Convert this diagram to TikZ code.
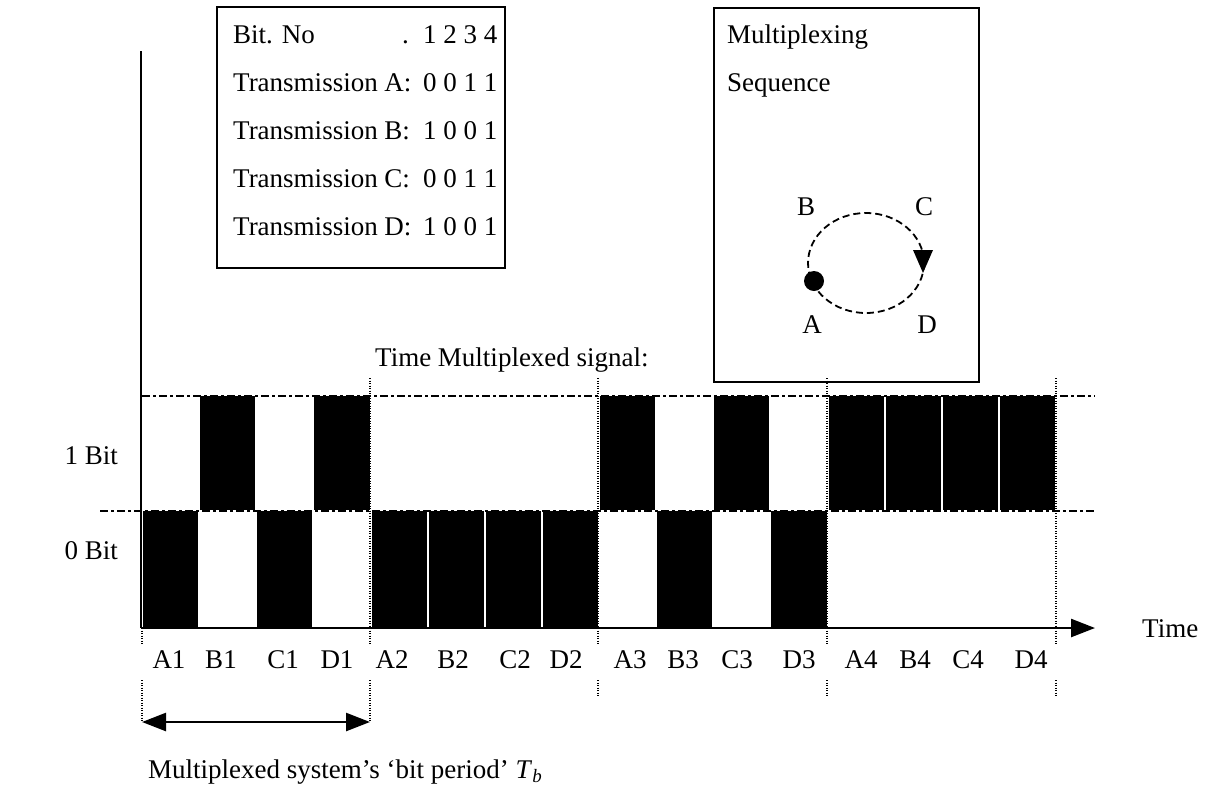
\documentclass[tikz,border=0pt]{standalone}
\usepackage{fontspec}
\setmainfont{Liberation Serif}
\usetikzlibrary{arrows.meta}
\begin{document}
\begin{tikzpicture}[x=1pt,y=-1pt,
  txt/.style={font=\fontsize{27}{31}\selectfont, inner sep=0pt},
  frame/.style={draw, line width=2pt},
  level/.style={line width=2pt, dash pattern=on 8pt off 3pt on 3pt off 3pt},
  slotline/.style={line width=1.4pt, dash pattern=on 1.3pt off 1.2pt},
  pulse/.style={fill=black},
  bigtip/.tip={Triangle[length=24pt,width=18pt]}]
\useasboundingbox (0,0) rectangle (1214,793);

% ---- bit table ----
\draw[frame] (217,7) rectangle (505,268);
\node[txt, anchor=base west] (bitno)  at (233,43)  {Bit. No};
\node[txt, anchor=base west] (bitdot) at (402,43)  {.};
\node[txt, anchor=base west] (bitnum) at (423,43)  {1 2 3 4};
\node[txt, anchor=base west] (ta) at (233,91)  {Transmission A:};
\node[txt, anchor=base west] (tad) at (423,91)  {0 0 1 1};
\node[txt, anchor=base west] (tb) at (233,139) {Transmission B:};
\node[txt, anchor=base west] (tbd) at (423,139) {1 0 0 1};
\node[txt, anchor=base west] (tc) at (233,187) {Transmission C:};
\node[txt, anchor=base west] (tcd) at (423,187) {0 0 1 1};
\node[txt, anchor=base west] (td) at (233,235) {Transmission D:};
\node[txt, anchor=base west] (tdd) at (423,235) {1 0 0 1};

% ---- multiplexing sequence ----
\draw[frame] (714,8) rectangle (979,382);
\node[txt, anchor=base west] (mux) at (727,43) {Multiplexing};
\node[txt, anchor=base west] (seq) at (727,91) {Sequence};
\draw[line width=1.8pt, dash pattern=on 7pt off 4pt] (866,263) ellipse [x radius=58, y radius=50];
\fill (814,281) circle (10);
\fill (913,250) -- (933,250) -- (923,273) -- cycle;
\node[txt] (sa) at (812,325) {A};
\node[txt] (sb) at (806,207) {B};
\node[txt] (sc) at (924,207) {C};
\node[txt] (sd) at (927,325) {D};

\node[txt, anchor=base west] (tms) at (375,366) {Time Multiplexed signal:};

% ---- levels ----
\node[txt, anchor=base east] (one)  at (118,464) {1 Bit};
\node[txt, anchor=base east] (zero) at (118,559) {0 Bit};
\draw[level] (142,396) -- (1095,396);
\draw[level] (100,511) -- (1095,511);

% ---- pulses ----
\foreach \b [count=\i from 0] in {0,1,0,1, 0,0,0,0, 1,0,1,0, 1,1,1,1}{
  \pgfmathsetmacro\xa{142+\i*57.125+1}
  \pgfmathsetmacro\xb{142+(\i+1)*57.125-1}
  \ifnum\b=1
    \fill[pulse] (\xa,396) rectangle (\xb,510);
  \else
    \fill[pulse] (\xa,511) rectangle (\xb,628);
  \fi
}

% ---- period boundaries ----
\foreach \x in {370,598,827,1056}{
  \draw[slotline] (\x,378) -- (\x,645);
}
\foreach \x in {598,827,1056}{
  \draw[slotline] (\x,680) -- (\x,697);
}
\draw[slotline] (142,628) -- (142,645);
\draw[slotline] (142,680) -- (142,722);
\draw[slotline] (370,680) -- (370,722);

% ---- axes ----
\coordinate (top) at (141,51);
\coordinate (orig) at (141,628);
\coordinate (tend) at (1095,628);
\draw[line width=2.5pt] (top) -- (orig);
\draw[line width=2.5pt, -bigtip] (orig) -- (tend);
\node[txt, anchor=base west] (time) at (1142,637) {Time};

% ---- slot labels ----
\foreach \l/\x in {A1/169,B1/221,C1/283,D1/337,A2/392,B2/453,C2/515,D2/566,
                   A3/630,B3/683,C3/737,D3/799,A4/861,B4/915,C4/968,D4/1031}{
  \node[txt, anchor=base] (l\l) at (\x,668) {\l};
}

% ---- bit period ----
\coordinate (pa) at (142,722);
\coordinate (pb) at (370,722);
\draw[line width=2.5pt, bigtip-bigtip] (pa) -- (pb);
\node[txt, anchor=base west] (period) at (148,778)
  {Multiplexed system’s ‘bit period’ \textit{T}\textsubscript{\textit{b}}};
\end{tikzpicture}
\end{document}
